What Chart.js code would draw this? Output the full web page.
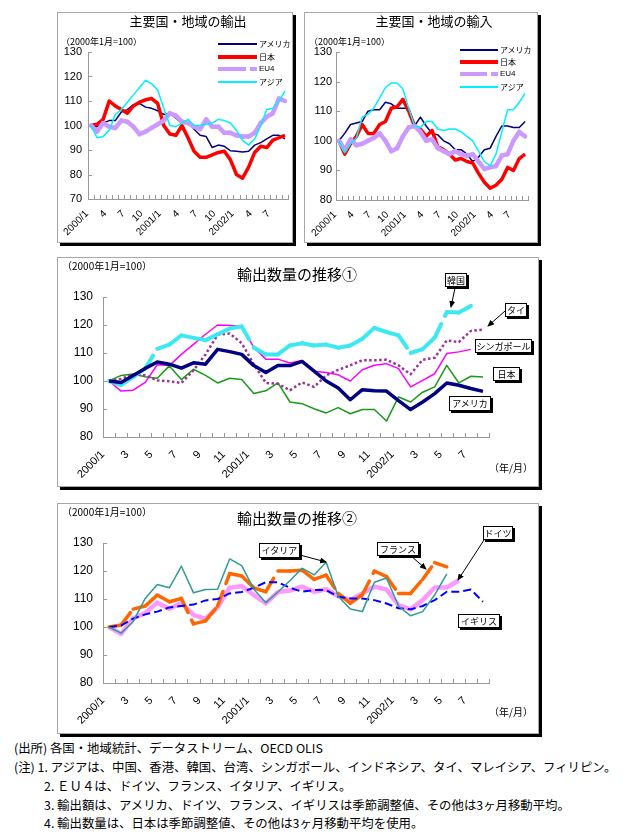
<!DOCTYPE html>
<html lang="ja">
<head>
<meta charset="utf-8">
<script src="https://cdn.jsdelivr.net/npm/chart.js@4.4.1/dist/chart.umd.min.js"></script>
<style>
html,body{margin:0;padding:0;background:#fff;}
body{width:629px;height:838px;position:relative;overflow:hidden;font-family:'Noto Sans CJK JP','Liberation Sans',sans-serif;color:#000;}
.frame{position:absolute;box-sizing:border-box;border:1px solid #a8a8a8;box-shadow:3px 3px 0 #000;background:#fff;z-index:0;}
canvas{position:absolute;z-index:1;}
.t{position:absolute;white-space:nowrap;line-height:1;transform:translate(-50%,-50%);z-index:2;}
.tl{position:absolute;white-space:nowrap;line-height:1;transform:translateY(-50%);z-index:2;}
.lab{position:absolute;box-sizing:border-box;background:#fff;border:1px solid #000;box-shadow:2px 2px 0 #000;font-size:9px;line-height:1;display:flex;align-items:center;justify-content:center;white-space:nowrap;z-index:4;}
.lg{position:absolute;z-index:2;}
.foot{position:absolute;font-size:12.4px;line-height:1;white-space:nowrap;transform:translateY(-50%);}
svg{position:absolute;left:0;top:0;z-index:3;}
</style>
</head>
<body>
<!-- frames -->
<div class="frame" style="left:57px;top:12px;width:236px;height:231px"></div>
<div class="frame" style="left:304px;top:12px;width:234px;height:231px"></div>
<div class="frame" style="left:57px;top:257px;width:482px;height:230px"></div>
<div class="frame" style="left:57px;top:503px;width:482px;height:231px"></div>

<canvas id="c1" width="233" height="228" style="left:58px;top:13px"></canvas>
<canvas id="c2" width="231" height="228" style="left:305px;top:13px"></canvas>
<canvas id="c3" width="479" height="227" style="left:58px;top:258px"></canvas>
<canvas id="c4" width="479" height="228" style="left:58px;top:504px"></canvas>

<!-- titles -->
<div class="t" style="left:188px;top:20px;font-size:13px">主要国・地域の輸出</div>
<div class="t" style="left:434px;top:20px;font-size:13px">主要国・地域の輸入</div>
<div class="tl" style="left:61px;top:41px;font-size:9px">（2000年1月=100）</div>
<div class="tl" style="left:309px;top:41px;font-size:9px">（2000年1月=100）</div>
<div class="t" style="left:297px;top:273px;font-size:15px">輸出数量の推移①</div>
<div class="t" style="left:297px;top:517px;font-size:15px">輸出数量の推移②</div>
<div class="tl" style="left:62px;top:266px;font-size:10px">（2000年1月=100）</div>
<div class="tl" style="left:62px;top:512px;font-size:10px">（2000年1月=100）</div>
<div class="tl" style="left:489px;top:468px;font-size:10px">（年/月）</div>
<div class="tl" style="left:489px;top:712px;font-size:10px">（年/月）</div>

<!-- legend chart 1 -->
<div class="lg" style="left:218px;top:43px;width:39px;height:1.5px;background:#000080"></div>
<div class="tl" style="left:259px;top:44px;font-size:8px">アメリカ</div>
<div class="lg" style="left:218px;top:55px;width:39px;height:3.5px;background:#ff0000"></div>
<div class="tl" style="left:259px;top:57px;font-size:8px">日本</div>
<div class="lg" style="left:218px;top:67px;width:28px;height:4px;background:#cc99ff"></div>
<div class="lg" style="left:250px;top:67px;width:7px;height:4px;background:#cc99ff"></div>
<div class="tl" style="left:259px;top:69px;font-size:8px;font-family:'Liberation Sans',sans-serif">EU4</div>
<div class="lg" style="left:218px;top:81px;width:39px;height:1.5px;background:#00f0ff"></div>
<div class="tl" style="left:259px;top:82px;font-size:8px">アジア</div>
<!-- legend chart 2 -->
<div class="lg" style="left:460px;top:49px;width:38px;height:1.5px;background:#000080"></div>
<div class="tl" style="left:500px;top:50px;font-size:8px">アメリカ</div>
<div class="lg" style="left:460px;top:60px;width:38px;height:3.5px;background:#ff0000"></div>
<div class="tl" style="left:500px;top:62px;font-size:8px">日本</div>
<div class="lg" style="left:460px;top:72px;width:27px;height:4px;background:#cc99ff"></div>
<div class="lg" style="left:491px;top:72px;width:7px;height:4px;background:#cc99ff"></div>
<div class="tl" style="left:500px;top:74px;font-size:8px;font-family:'Liberation Sans',sans-serif">EU4</div>
<div class="lg" style="left:460px;top:86px;width:38px;height:1.5px;background:#00f0ff"></div>
<div class="tl" style="left:500px;top:87px;font-size:8px">アジア</div>

<!-- annotation labels chart 3 -->
<div class="lab" style="left:445px;top:273px;width:22px;height:14px">韓国</div>
<div class="lab" style="left:505px;top:303px;width:22px;height:14px">タイ</div>
<div class="lab" style="left:475px;top:339px;width:57px;height:14px">シンガポール</div>
<div class="lab" style="left:493px;top:367px;width:27px;height:14px">日本</div>
<div class="lab" style="left:449px;top:396px;width:42px;height:15px">アメリカ</div>
<!-- annotation labels chart 4 -->
<div class="lab" style="left:259px;top:543px;width:41px;height:15px">イタリア</div>
<div class="lab" style="left:377px;top:542px;width:42px;height:14px">フランス</div>
<div class="lab" style="left:483px;top:526px;width:30px;height:14px">ドイツ</div>
<div class="lab" style="left:458px;top:614px;width:42px;height:14px">イギリス</div>

<svg width="629" height="838">
<defs><marker id="ah" markerWidth="7" markerHeight="6" refX="6" refY="3" orient="auto" markerUnits="userSpaceOnUse"><path d="M0,0 L7,3 L0,6 z" fill="#000"/></marker></defs>
<g stroke="#000" stroke-width="1" fill="none">
<line x1="455" y1="288" x2="451" y2="307" marker-end="url(#ah)"/>
<line x1="505" y1="311" x2="488" y2="326" marker-end="url(#ah)"/>
<line x1="300" y1="555" x2="326" y2="562" marker-end="url(#ah)"/>
<line x1="411" y1="556" x2="426" y2="569" marker-end="url(#ah)"/>
<line x1="484" y1="540" x2="458" y2="580" marker-end="url(#ah)"/>
</g>
</svg>

<!-- footnotes -->
<div class="foot" style="left:14px;top:748px">(出所) 各国・地域統計、データストリーム、OECD OLIS</div>
<div class="foot" style="left:14px;top:767px">(注) 1. アジアは、中国、香港、韓国、台湾、シンガポール、インドネシア、タイ、マレイシア、フィリピン。</div>
<div class="foot" style="left:44px;top:786px">2. ＥＵ４は、ドイツ、フランス、イタリア、イギリス。</div>
<div class="foot" style="left:44px;top:805px">3. 輸出額は、アメリカ、ドイツ、フランス、イギリスは季節調整値、その他は3ヶ月移動平均。</div>
<div class="foot" style="left:44px;top:823px">4. 輸出数量は、日本は季節調整値、その他は3ヶ月移動平均を使用。</div>

<script>
// ---------- tick labels (months 2000/1 .. 2002/9) ----------
const months = ['2000/1','2','3','4','5','6','7','8','9','10','11','12',
                '2001/1','2','3','4','5','6','7','8','9','10','11','12',
                '2002/1','2','3','4','5','6','7','8','9'];
const months32 = months.slice(0, 32);

// ---------- chart 1: 主要国・地域の輸出 ----------
const exUS = [100, 99.5, 101, 102, 102, 105.5, 106.5, 108.5, 109, 107.5, 107, 106, 104.5, 105, 103, 101, 101.5, 98.5, 96, 95.5, 91, 92, 91.5, 89.7, 89.5, 89.2, 89.5, 92, 93, 94.5, 96, 96, 94.5];
const exJP = [100, 100.5, 102.5, 110, 108, 106.5, 105, 108, 109.5, 110.5, 111, 109, 100, 96.5, 96, 100, 95, 89.5, 87, 87, 88, 89, 89.5, 86, 80, 78.5, 83, 89, 91.5, 91, 94, 95, 96];
const exEU = [100, 97.5, 101, 99.5, 99, 102, 101.5, 99.5, 96.5, 97.5, 99, 100.5, 102, 105, 104, 101.5, 101, 99.5, 98.5, 102.5, 99.5, 99.5, 97, 97, 96, 95.5, 95.5, 97, 101, 103.5, 105, 111, 110];
const exAS = [100, 95, 95.5, 98, 104.5, 106.5, 109.5, 112.5, 115.5, 118.5, 117, 114.5, 107, 100, 99.5, 101, 102.5, 100, 100, 100.5, 101, 102.5, 102, 101, 98, 94, 92, 94.5, 100, 106.5, 107, 110, 114];

// ---------- chart 2: 主要国・地域の輸入 ----------
const imUS = [100, 102.5, 105.5, 106, 106.5, 110, 110.5, 110.5, 113, 112.5, 111, 111, 111, 105, 108, 105, 102.5, 102, 100, 99, 97, 97, 95.5, 93, 94.5, 97, 97.5, 101.5, 105, 105, 104.5, 104.5, 106.5];
const imJP = [100, 95.5, 99, 101.5, 105.5, 102.5, 102.5, 105.5, 106.5, 111, 111.5, 114, 110, 105, 104, 101.5, 103.5, 98, 97, 95.5, 93.5, 94, 93, 92.5, 89, 86, 84, 85, 87, 91, 90, 94, 95.5];
const imEU = [100, 97, 100.5, 98.5, 99, 100, 101, 102.5, 100, 96.5, 97.5, 101.5, 104.5, 105, 103, 100, 100.5, 97.5, 96.5, 95.5, 96.5, 95.5, 95, 95.5, 93, 90.5, 91, 91.5, 95, 95.5, 100, 103, 101.5];
const imAS = [100, 96, 99, 101, 108, 109, 111, 114.5, 118, 119.5, 119.5, 117.5, 111, 105, 104.5, 106.5, 106.5, 104, 103.5, 104, 104, 103, 101.5, 100, 96.5, 93, 91.5, 95.5, 103, 110.5, 110.5, 113, 116];

// ---------- chart 3: 輸出数量の推移① ----------
const qUS = [100, 99.5, 102, 104.5, 106.8, 106, 104.6, 106.5, 106, 111.3, 110.5, 109.5, 105.5, 103, 105.5, 105.5, 107, 103.5, 100, 97.5, 93.3, 96.9, 96.5, 96.4, 93, 89.8, 92.5, 95.5, 99.3, 98.5, 97.3, 96.3];
const qJP = [100, 102, 102.5, 101.5, 101, 105.4, 100.5, 104.2, 102, 99.3, 101, 100.5, 95.5, 96.5, 99.3, 92.5, 91.9, 90.1, 88.6, 90.5, 88.3, 89.8, 89.8, 85.7, 94.3, 92.5, 96, 97.9, 105.6, 99.3, 101.7, 101.4, 101.3];
const qKR = [100, 98.5, 101.5, 104.5, 111.5, 113, 116.3, 115.4, 114.6, 116.7, 118.7, 119.5, 112, 109.5, 109.5, 112.7, 113.5, 112.7, 113, 111.9, 112.7, 115.1, 119, 117.5, 116.3, 110, 111.4, 115.5, 124.6, 124.5, 126.8];
const qTH = [100, 100.8, 102.4, 102, 100.2, 99.9, 99.3, 103.8, 109.5, 116.5, 117, 113.5, 106, 99.3, 99, 96.7, 99.5, 97.9, 102, 104, 105.6, 107.4, 107.4, 107.6, 105.6, 102.4, 107.6, 108.3, 114.5, 113.9, 117.9, 118.3];
const qSG = [100, 96.4, 96.7, 99.5, 105.8, 105.5, 109.5, 113.1, 116.7, 120, 119.8, 119.5, 112, 107.8, 107.8, 106.4, 107.3, 103.5, 103, 102.2, 100, 104, 105.6, 106.2, 104.4, 97.9, 100.2, 102.6, 109.8, 110.4, 111.3];

// ---------- chart 4: 輸出数量の推移② ----------
const qIT = [100, 97.8, 101.9, 110.2, 115.2, 114, 121.7, 112.2, 113.4, 113.5, 124.3, 121.9, 113.5, 108.7, 112.5, 116.5, 121, 118.6, 123.1, 111, 106.4, 105.5, 116, 117.5, 107.5, 104, 105.5, 111.5, 119];
const qFR = [100, 100.7, 106.4, 107.5, 111.4, 109, 110.2, 101.1, 102.2, 107.5, 119.1, 118.2, 114, 112.6, 120, 120, 120.3, 117, 118.5, 112, 108.5, 111.5, 120, 118, 112, 112, 117, 123, 121.5];
const qDE = [100, 97.5, 103.1, 105, 108.7, 106.5, 108.5, 104.3, 102.9, 107, 114, 114.6, 111.5, 108.4, 112.5, 113, 114.4, 112.6, 113.5, 111, 109.6, 112, 114.4, 113.4, 107.8, 106.3, 109.6, 114.1, 114.1, 116.7];
const qUK = [100, 100.5, 103, 104.5, 105.5, 107, 107.5, 108, 109.5, 110, 112, 112.5, 114, 116, 116, 114, 112.6, 113.2, 113.2, 110.8, 110.2, 110.2, 109.6, 108.4, 106.7, 106.3, 107.5, 109.6, 112.6, 112.6, 113.4, 109];

// ---------- helpers ----------
Chart.defaults.font.family = "'Liberation Sans', Arial, sans-serif";
Chart.defaults.color = '#000';

const innerTicks = {
  id: 'innerTicks',
  beforeDatasetsDraw(chart) {
    const {ctx, chartArea: a, scales: {x, y}} = chart;
    ctx.save();
    ctx.strokeStyle = '#999';
    ctx.lineWidth = 1;
    ctx.beginPath();
    for (let v = x.min - 0.5; v <= x.max + 0.51; v += 1) {
      const px = Math.round(x.getPixelForValue(v)) + 0.5;
      ctx.moveTo(px, a.bottom); ctx.lineTo(px, a.bottom - 4);
    }
    for (const t of y.ticks) {
      const py = Math.round(y.getPixelForValue(t.value)) + 0.5;
      ctx.moveTo(a.left, py); ctx.lineTo(a.left + 4, py);
    }
    ctx.stroke();
    ctx.restore();
  }
};

// dash pattern restarting at every vertex (spreadsheet-style long dash)
function vertexDash(dash) {
  return {
    borderDash: () => dash,
    borderDashOffset: c => (c.p0DataIndex % 2) ? 0.001 : 0
  };
}

function ds(data, color, width, extra) {
  return Object.assign({data, borderColor: color, backgroundColor: color, borderWidth: width,
    pointRadius: 0, pointHoverRadius: 0, fill: false}, extra || {});
}

function build(id, geo, labels, datasets, yMin, yMax, o) {
  const cv = document.getElementById(id);
  const left = parseFloat(cv.style.left), top = parseFloat(cv.style.top);
  const padTop = geo.t - top, padRight = left + cv.width - geo.r;
  const yW = geo.l - left, xH = top + cv.height - geo.b;
  return new Chart(cv, {
    type: 'line',
    data: {labels, datasets},
    options: {
      responsive: false, animation: false, devicePixelRatio: 1,
      layout: {padding: {left: 0, top: padTop, right: padRight, bottom: 0}},
      plugins: {legend: {display: false}, tooltip: {enabled: false}},
      elements: {line: {tension: 0, borderJoinStyle: 'round'}},
      scales: {
        x: {
          offset: true,
          max: o.xMax,
          grid: {display: false, drawTicks: false},
          border: {color: '#999', width: 1},
          ticks: {autoSkip: false, minRotation: 45, maxRotation: 45, padding: o.xPad, labelOffset: o.xOff,
                  font: {size: o.xFont}, color: '#000',
                  callback: (v, i) => (i % o.step === 0 ? labels[i] : '')},
          afterFit: s => { s.height = xH; s.paddingLeft = 0; s.paddingRight = 0; }
        },
        y: {
          min: yMin, max: yMax,
          grid: {display: false, drawTicks: false},
          border: {color: '#999', width: 1},
          ticks: {stepSize: 10, padding: o.yPad, font: {size: o.yFont}, color: '#000'},
          afterFit: s => { s.width = yW; s.paddingTop = 0; s.paddingBottom = 0; }
        }
      }
    },
    plugins: [innerTicks]
  });
}

// chart 1
build('c1', {l: 88, r: 288, t: 52, b: 199}, months, [
  ds(exUS, '#000080', 1.5, {order: 4}),
  ds(exJP, '#ff0000', 3.5, {order: 3}),
  ds(exEU, '#cc99ff', 4.5, {order: 2, borderCapStyle: 'round', segment: vertexDash([20, 9])}),
  ds(exAS, '#00f0ff', 1.5, {order: 1})
], 70, 130, {step: 3, xPad: 9, xOff: -4, xFont: 10, yPad: 6, yFont: 11});

// chart 2
build('c2', {l: 336, r: 528, t: 52, b: 200}, months, [
  ds(imUS, '#000080', 1.5, {order: 4}),
  ds(imJP, '#ff0000', 3.5, {order: 3}),
  ds(imEU, '#cc99ff', 4.5, {order: 2, borderCapStyle: 'round', segment: vertexDash([20, 9])}),
  ds(imAS, '#00f0ff', 1.5, {order: 1})
], 80, 130, {step: 3, xPad: 9, xOff: -4, xFont: 10, yPad: 4, yFont: 11});

// chart 3
build('c3', {l: 103, r: 489, t: 297, b: 437}, months, [
  ds(qJP, '#1a991a', 1.5, {order: 5, clip: false}),
  ds(qSG, '#ff00ff', 1.5, {order: 4}),
  ds(qTH, '#993399', 2.5, {order: 3, borderDash: [2.5, 2.5]}),
  ds(qKR, '#3ce8f2', 4, {order: 2, borderCapStyle: 'round', segment: vertexDash([15, 9])}),
  ds(qUS, '#000080', 3.5, {order: 1})
], 80, 130, {xMax: 31, step: 2, xPad: 11, xOff: -6, xFont: 11, yPad: 10, yFont: 12});

// chart 4
build('c4', {l: 103, r: 489, t: 543, b: 683}, months32, [
  ds(qDE, '#ff99ff', 4.5, {order: 4}),
  ds(qFR, '#ff6600', 3.5, {order: 3, borderCapStyle: 'round', segment: vertexDash([15.5, 8.5])}),
  ds(qUK, '#0000ff', 2, {order: 2, borderDash: [8, 4]}),
  ds(qIT, '#2f9a96', 1.5, {order: 1})
], 80, 130, {step: 2, xPad: 11, xOff: -6, xFont: 11, yPad: 10, yFont: 12});
</script>
</body>
</html>
